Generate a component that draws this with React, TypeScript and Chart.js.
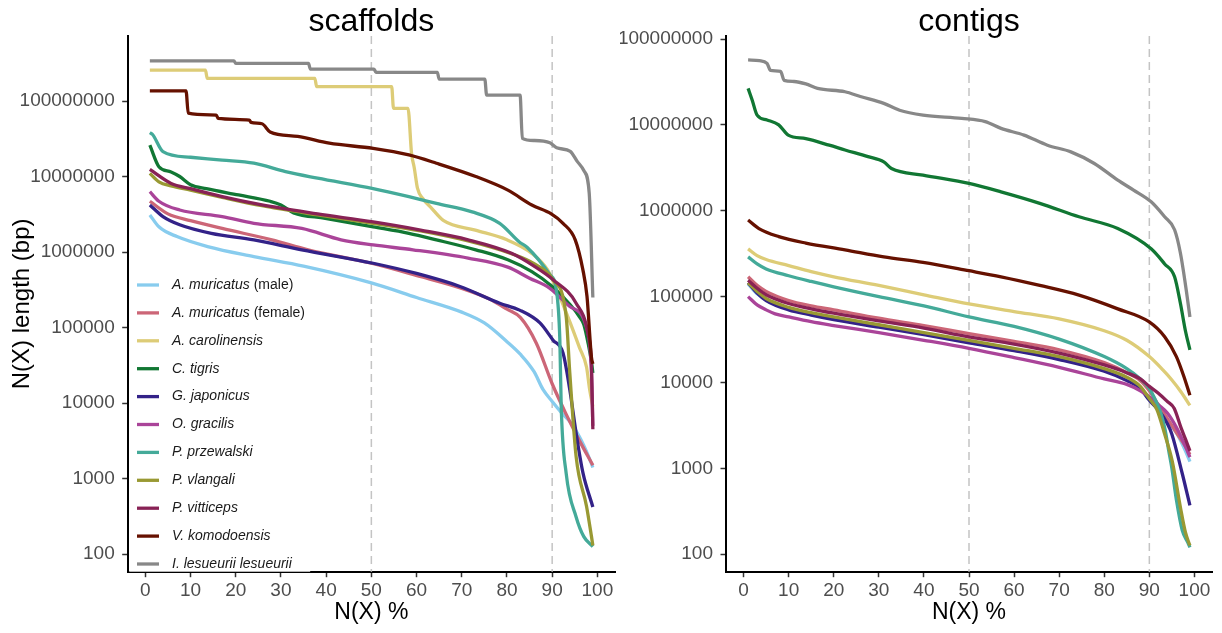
import React, { useEffect, useRef } from "react";
import { Chart, registerables } from "chart.js";

Chart.register(...registerables);

const FONT = '"Liberation Sans", Arial, Helvetica, sans-serif';

// Legend labels (italic part + plain suffix)
const SPECIES = [
  "A. muricatus (male)",
  "A. muricatus (female)",
  "A. carolinensis",
  "C. tigris",
  "G. japonicus",
  "O. gracilis",
  "P. przewalski",
  "P. vlangali",
  "P. vitticeps",
  "V. komodoensis",
  "I. lesueurii lesueurii",
];
const SPECIES_ITALIC = [
  "A. muricatus", "A. muricatus", "A. carolinensis", "C. tigris", "G. japonicus",
  "O. gracilis", "P. przewalski", "P. vlangali", "P. vitticeps", "V. komodoensis",
  "I. lesueurii lesueurii",
];
const SPECIES_PLAIN = [" (male)", " (female)", "", "", "", "", "", "", "", "", ""];
const COLORS = [
  "#88CCEE", "#CC6677", "#DDCC77", "#117733", "#332288",
  "#AA4499", "#44AA99", "#999933", "#882255", "#661100", "#888888",
];

const X_TICKS = [0, 10, 20, 30, 40, 50, 60, 70, 80, 90, 100];
const Y_TICKS = [100, 1000, 10000, 100000, 1000000, 10000000, 100000000];
const CUTOFFS = [50, 90];

// ---------------- scaffolds: N(X) % and N(X) length (bp) ----------------
const scafMaleX = [1, 3, 7, 14, 24, 35, 50, 60, 70, 75, 80, 83, 86, 88, 90, 92, 94, 96, 98, 99];
const scafMaleN = [3.1e6, 2.16e6, 1.6e6, 1.17e6, 8.7e5, 6.5e5, 3.9e5, 2.5e5, 1.6e5, 1.15e5, 6.5e4, 4.4e4, 2.6e4, 1.5e4, 1.05e4, 7.5e3, 5.6e3, 3.6e3, 2e3, 1.4e3];

const scafFemaleX = [1, 5, 10, 17, 28, 36, 50, 61, 70, 76, 80, 83, 86.5, 90, 93, 96, 99];
const scafFemaleN = [4.7e6, 3.2e6, 2.6e6, 2.05e6, 1.45e6, 1.07e6, 7.1e5, 4.7e5, 3.3e5, 2.4e5, 1.75e5, 1.35e5, 6.2e4, 1.8e4, 7.3e3, 3.2e3, 1.5e3];

const scafCaroX = [1, 13.3, 13.7, 37.5, 37.9, 54.5, 54.9, 58.1, 58.9, 59.5, 60.2, 61.5, 63, 66, 73, 80, 85.5, 89, 90.2, 92, 94, 96, 97.6, 98.3, 99];
const scafCaroN = [2.57e8, 2.57e8, 2.0e8, 2.0e8, 1.55e8, 1.55e8, 8e7, 8e7, 2e7, 1.3e7, 7e6, 5e6, 4e6, 2.6e6, 1.95e6, 1.45e6, 9.6e5, 5.8e5, 4.1e5, 2.3e5, 1.15e5, 5.5e4, 3e4, 1.5e4, 9e3];

const scafTigrisX = [1, 3, 5.7, 7.6, 10, 13.5, 20.6, 27.6, 30, 32.8, 39.8, 50.4, 58.3, 64.4, 73.1, 80.2, 85.5, 90, 94, 96, 97, 98, 98.7, 99];
const scafTigrisN = [2.6e7, 1.35e7, 1.15e7, 1e7, 7.8e6, 6.9e6, 5.7e6, 4.7e6, 4.2e6, 3.3e6, 2.8e6, 2.16e6, 1.77e6, 1.45e6, 1.07e6, 7.9e5, 5.5e5, 3.5e5, 2e5, 1.4e5, 1.1e5, 6e4, 3.5e4, 2.5e4];

const scafJaponX = [1, 3.9, 7.6, 14.6, 24, 34.6, 50.4, 60, 69.6, 78.4, 82.8, 87.3, 90.2, 92.4, 93.9, 95.3, 96.8, 99];
const scafJaponN = [4.2e6, 2.95e6, 2.3e6, 1.77e6, 1.45e6, 1.07e6, 7.1e5, 5.2e5, 3.5e5, 2.1e5, 1.7e5, 1.15e5, 6.8e4, 4.6e4, 1.5e4, 4e3, 1.2e3, 4.2e2];

const scafGracX = [1, 3, 7.6, 17, 24, 34.6, 43.3, 50.4, 59.2, 71.4, 80.2, 85, 89.5, 93.9, 97.6, 98.7, 99];
const scafGracN = [6.3e6, 4.7e6, 3.6e6, 2.95e6, 2.4e6, 2.05e6, 1.45e6, 1.24e6, 1.07e6, 8.3e5, 6.3e5, 4.5e5, 3.3e5, 1.9e5, 1e5, 2.5e4, 5e3];

const scafPrzewX = [1, 1.6, 3.9, 10, 17, 24, 31, 38.1, 50.4, 58.3, 64.4, 72.3, 78.4, 82.8, 84.5, 89.5, 90.9, 91.7, 92.0, 93.1, 95.3, 97, 99];
const scafPrzewN = [3.8e7, 3.6e7, 2.14e7, 1.8e7, 1.65e7, 1.5e7, 1.16e7, 9.5e6, 6.9e6, 5.4e6, 4.4e6, 3.4e6, 2.4e6, 1.35e6, 1.15e6, 5e5, 3.2e5, 6.8e4, 9e3, 1.17e3, 3.1e2, 1.7e2, 1.25e2];

const scafVlangX = [1, 3, 5.7, 10, 17, 25.8, 38.1, 50.4, 60.9, 71.4, 81, 86, 90.2, 93.1, 93.9, 95.3, 97.6, 98.7, 99];
const scafVlangN = [1.1e7, 8.5e6, 7.5e6, 6.6e6, 5.3e6, 4.1e6, 3.1e6, 2.4e6, 1.9e6, 1.4e6, 9.5e5, 7e5, 4.3e5, 1.4e5, 2.5e4, 1.95e3, 4.3e2, 1.7e2, 1.3e2];

const scafVittX = [1, 5.7, 10, 17, 25.8, 38.1, 50.4, 60.9, 71.4, 81, 86, 90.2, 95.3, 97.9, 98.7, 99];
const scafVittN = [1.24e7, 8.1e6, 6.9e6, 5.4e6, 4.2e6, 3.2e6, 2.5e6, 1.95e6, 1.45e6, 9.6e5, 6.5e5, 4.3e5, 2.1e5, 8.3e4, 3e4, 4.5e3];

const scafKomoX = [1, 9, 9.5, 15.7, 16.1, 23, 23.4, 25.8, 27.6, 33.7, 40.7, 50.4, 58.3, 64.4, 73.1, 80.2, 85.5, 89.8, 92.4, 95.1, 96.8, 97.7, 98.7, 99];
const scafKomoN = [1.36e8, 1.36e8, 6.9e7, 6.5e7, 5.9e7, 5.6e7, 5.2e7, 5.0e7, 3.9e7, 3.4e7, 2.76e7, 2.36e7, 1.93e7, 1.5e7, 1e7, 6.6e6, 4.2e6, 3.2e6, 2.4e6, 1.45e6, 5.8e5, 2.6e5, 4e4, 3.3e4];

const scafLesuX = [1, 19.6, 20, 36.1, 36.5, 50.6, 51, 64.6, 65, 75.1, 75.5, 82.9, 83.4, 86, 89.5, 91, 94, 95.5, 97, 98.2, 99];
const scafLesuN = [3.4e8, 3.4e8, 3.15e8, 3.15e8, 2.65e8, 2.65e8, 2.4e8, 2.4e8, 1.95e8, 1.95e8, 1.2e8, 1.2e8, 3.2e7, 3.0e7, 2.8e7, 2.4e7, 2.15e7, 1.6e7, 1.2e7, 6e6, 2.5e5];

// ---------------- contigs ----------------
const contMaleX = [1, 3, 5, 10, 15, 20, 30, 40, 50, 60, 70, 80, 85, 88, 90, 92, 94, 96, 98, 99];
const contMaleN = [1.4e5, 1.08e5, 9.2e4, 7.2e4, 6.2e4, 5.5e4, 4.5e4, 3.7e4, 3e4, 2.4e4, 1.9e4, 1.4e4, 1.1e4, 8.5e3, 6.3e3, 4.8e3, 3.6e3, 2.6e3, 1.6e3, 1.2e3];

const contFemaleX = [1, 3, 5, 10, 15, 20, 30, 40, 50, 60, 70, 80, 85, 88, 90, 92, 94, 96, 98, 99];
const contFemaleN = [1.7e5, 1.35e5, 1.15e5, 9e4, 7.8e4, 7e4, 5.6e4, 4.6e4, 3.7e4, 3e4, 2.4e4, 1.7e4, 1.3e4, 1.05e4, 8e3, 5.5e3, 3.8e3, 2.6e3, 1.8e3, 1.45e3];

const contCaroX = [1, 3, 5, 10, 15, 20, 30, 40, 50, 60, 70, 80, 85, 90, 93, 95, 97, 99];
const contCaroN = [3.6e5, 3e5, 2.7e5, 2.3e5, 1.95e5, 1.7e5, 1.35e5, 1.05e5, 8.2e4, 6.7e4, 5.5e4, 4e4, 3.1e4, 2e4, 1.4e4, 1.07e4, 7.8e3, 5.4e3];

const contTigrisX = [1, 1.9, 3, 5.2, 7.8, 9.9, 13.8, 19, 22.5, 27.6, 31.1, 32.8, 39.8, 50, 57.1, 65.7, 74.4, 83, 90.4, 93.4, 95.6, 96.9, 98, 99];
const contTigrisN = [2.66e7, 1.95e7, 1.3e7, 1.14e7, 1e7, 7.6e6, 6.9e6, 5.8e6, 5.1e6, 4.26e6, 3.7e6, 3.1e6, 2.6e6, 2.08e6, 1.66e6, 1.22e6, 8.5e5, 6.2e5, 3.6e5, 2.4e5, 1.7e5, 8.3e4, 4e4, 2.4e4];

const contJaponX = [1, 3, 5, 10, 15, 20, 30, 40, 50, 60, 70, 80, 85, 88, 90, 92, 94, 95, 97.3, 99];
const contJaponN = [1.45e5, 1.1e5, 9e4, 7e4, 6.1e4, 5.4e4, 4.4e4, 3.6e4, 2.9e4, 2.35e4, 1.85e4, 1.35e4, 1.05e4, 8.5e3, 6.2e3, 4.8e3, 3.3e3, 2.5e3, 870, 370];

const contGracX = [1, 3, 5, 7, 10, 15, 20, 30, 40, 50, 60, 70, 80, 85, 88, 90, 92, 94, 96, 98, 99];
const contGracN = [1e5, 8e4, 7e4, 6.3e4, 5.8e4, 5.1e4, 4.6e4, 3.8e4, 3.1e4, 2.5e4, 1.95e4, 1.5e4, 1.1e4, 9.5e3, 8e3, 6.8e3, 5.5e3, 4.4e3, 3e3, 1.8e3, 1.35e3];

const contPrzewX = [1, 3, 5, 10, 15, 20, 30, 40, 50, 60, 70, 80, 85, 88, 90, 91.5, 92.5, 93.5, 94.3, 95, 96, 97.3, 98.6, 99];
const contPrzewN = [2.9e5, 2.4e5, 2.1e5, 1.75e5, 1.5e5, 1.3e5, 1e5, 7.8e4, 5.8e4, 4.5e4, 3.2e4, 2e4, 1.45e4, 1.1e4, 8.5e3, 6e3, 4.5e3, 2.8e3, 1.6e3, 1e3, 4.3e2, 1.9e2, 1.35e2, 1.2e2];

const contVlangX = [1, 3, 5, 10, 15, 20, 30, 40, 50, 60, 70, 80, 85, 88, 90, 91.7, 93.4, 95.1, 96.9, 98, 99];
const contVlangN = [1.45e5, 1.15e5, 9.5e4, 7.5e4, 6.5e4, 5.8e4, 4.7e4, 3.8e4, 3.1e4, 2.5e4, 2e4, 1.45e4, 1.15e4, 9e3, 6.5e3, 4.8e3, 2.5e3, 1.2e3, 3.5e2, 1.8e2, 1.26e2];

const contVittX = [1, 3, 5, 10, 15, 20, 30, 40, 50, 60, 70, 80, 85, 88, 90, 92, 94, 95.5, 97, 98, 99];
const contVittN = [1.55e5, 1.25e5, 1.05e5, 8.3e4, 7.2e4, 6.4e4, 5.2e4, 4.3e4, 3.4e4, 2.8e4, 2.2e4, 1.6e4, 1.3e4, 1.1e4, 9e3, 7.5e3, 6e3, 5e3, 3e3, 2.2e3, 1.6e3];

const contKomoX = [1, 3.4, 7.8, 13.8, 22.5, 31.1, 39.8, 50, 57.1, 65.7, 74.4, 83, 89.9, 93.4, 96, 97.7, 99];
const contKomoN = [7.8e5, 6.2e5, 5e5, 4.2e5, 3.5e5, 2.9e5, 2.5e5, 2e5, 1.7e5, 1.35e5, 1.04e5, 7.2e4, 5.1e4, 3.4e4, 2e4, 1.16e4, 7.1e3];

const contLesuX = [1, 3.5, 5.2, 6, 8.2, 9, 11.2, 13.8, 16.4, 22.5, 25.9, 31.1, 34.6, 39.8, 48.4, 53.6, 57.1, 62.2, 67.4, 72.6, 77.8, 83, 86.5, 90.4, 93.4, 95.6, 96.9, 98.2, 99];
const contLesuN = [5.7e7, 5.6e7, 5.2e7, 4.3e7, 4.2e7, 3.3e7, 3.2e7, 3.0e7, 2.66e7, 2.43e7, 2.14e7, 1.78e7, 1.48e7, 1.3e7, 1.19e7, 1.09e7, 9.1e6, 7.6e6, 5.8e6, 4.85e6, 3.55e6, 2.27e6, 1.74e6, 1.27e6, 8.5e5, 6e5, 3.2e5, 1.18e5, 5.8e4];

const SCAF_X = [scafMaleX, scafFemaleX, scafCaroX, scafTigrisX, scafJaponX, scafGracX, scafPrzewX, scafVlangX, scafVittX, scafKomoX, scafLesuX];
const SCAF_N = [scafMaleN, scafFemaleN, scafCaroN, scafTigrisN, scafJaponN, scafGracN, scafPrzewN, scafVlangN, scafVittN, scafKomoN, scafLesuN];
const CONT_X = [contMaleX, contFemaleX, contCaroX, contTigrisX, contJaponX, contGracX, contPrzewX, contVlangX, contVittX, contKomoX, contLesuX];
const CONT_N = [contMaleN, contFemaleN, contCaroN, contTigrisN, contJaponN, contGracN, contPrzewN, contVlangN, contVittN, contKomoN, contLesuN];

function buildDatasets(xs: number[][], ns: number[][]) {
  return SPECIES.map((label, i) => ({
    label,
    data: xs[i].map((x, j) => ({ x, y: ns[i][j] })),
    borderColor: COLORS[i],
    backgroundColor: COLORS[i],
    borderWidth: 3.3,
    pointRadius: 0,
    pointHoverRadius: 0,
    fill: false,
    cubicInterpolationMode: "monotone" as const,
    borderJoinStyle: "round" as const,
    order: SPECIES.length - 1 - i,
  }));
}

const cutoffPlugin = {
  id: "cutoffs",
  beforeDatasetsDraw(chart: any) {
    const { ctx, chartArea, scales } = chart;
    ctx.save();
    ctx.strokeStyle = "#c4c4c4";
    ctx.lineWidth = 1.5;
    ctx.setLineDash([8, 5]);
    CUTOFFS.forEach((v) => {
      const px = scales.x.getPixelForValue(v);
      ctx.beginPath();
      ctx.moveTo(px, chartArea.top);
      ctx.lineTo(px, chartArea.bottom);
      ctx.stroke();
    });
    ctx.restore();
  },
};

const legendPlugin = {
  id: "speciesLegend",
  afterDraw(chart: any) {
    const { ctx, chartArea } = chart;
    const left = chartArea.left + 1.5;
    const top = 272;
    ctx.save();
    ctx.fillStyle = "#ffffff";
    ctx.fillRect(left, top, 181, chartArea.bottom - top);
    SPECIES.forEach((_, i) => {
      const y = 285 + i * 27.9;
      ctx.strokeStyle = COLORS[i];
      ctx.lineWidth = 3.3;
      ctx.beginPath();
      ctx.moveTo(137, y);
      ctx.lineTo(159, y);
      ctx.stroke();
      ctx.fillStyle = "#1a1a1a";
      ctx.textBaseline = "middle";
      ctx.textAlign = "left";
      ctx.font = `italic 14px ${FONT}`;
      ctx.fillText(SPECIES_ITALIC[i], 172, y);
      const w = ctx.measureText(SPECIES_ITALIC[i]).width;
      if (SPECIES_PLAIN[i]) {
        ctx.font = `14px ${FONT}`;
        ctx.fillText(SPECIES_PLAIN[i], 172 + w, y);
      }
    });
    ctx.restore();
  },
};

function makeOptions(panel: "left" | "right"): any {
  const isLeft = panel === "left";
  const logMin = isLeft ? 1.766 : 1.796;
  const logMax = isLeft ? 8.861 : 8.035;
  return {
    responsive: false,
    animation: false,
    devicePixelRatio: 1,
    events: [],
    layout: { padding: { top: 0, right: isLeft ? 5 : 10, bottom: 0, left: 0 } },
    plugins: {
      legend: { display: false },
      tooltip: { enabled: false },
      title: {
        display: true,
        text: isLeft ? "scaffolds" : "contigs",
        fullSize: false,
        color: "#000",
        font: { family: FONT, size: 32, weight: "normal", lineHeight: 1 },
        padding: { top: 6, bottom: -2 },
      },
    },
    scales: {
      x: {
        type: "linear",
        bounds: "data",
        min: -3.9,
        max: 103.9,
        afterBuildTicks: (axis: any) => {
          axis.ticks = X_TICKS.map((v) => ({ value: v }));
        },
        afterFit: (axis: any) => {
          axis.height = 61.3;
        },
        ticks: {
          autoSkip: false,
          maxRotation: 0,
          padding: 2.5,
          color: "#4d4d4d",
          font: { family: FONT, size: 19 },
          callback: (v: any) => String(v),
        },
        grid: { drawOnChartArea: false, drawTicks: true, tickLength: 5.5, tickColor: "#333", tickWidth: 1.5 },
        border: { display: true, color: "#000", width: 2 },
        title: {
          display: true,
          text: "N(X) %",
          color: "#000",
          font: { family: FONT, size: 23, lineHeight: 1.2 },
          padding: { top: 0, bottom: 6.2 },
        },
      },
      y: {
        type: "logarithmic",
        bounds: "data",
        min: Math.pow(10, logMin),
        max: Math.pow(10, logMax),
        afterBuildTicks: (axis: any) => {
          axis.ticks = Y_TICKS.map((v) => ({ value: v, major: true }));
        },
        afterFit: (axis: any) => {
          axis.width = isLeft ? 127.7 : 106;
        },
        ticks: {
          autoSkip: false,
          padding: 7.5,
          color: "#4d4d4d",
          font: { family: FONT, size: 19 },
          callback: (v: any) => String(v),
        },
        grid: { drawOnChartArea: false, drawTicks: true, tickLength: 5.5, tickColor: "#333", tickWidth: 1.5 },
        border: { display: true, color: "#000", width: 2 },
        title: {
          display: isLeft,
          text: "N(X) length (bp)",
          color: "#000",
          font: { family: FONT, size: 24, lineHeight: 1.2 },
          padding: { top: 7.6, bottom: 0 },
        },
      },
    },
  };
}

export default function App() {
  const leftRef = useRef<HTMLCanvasElement | null>(null);
  const rightRef = useRef<HTMLCanvasElement | null>(null);

  useEffect(() => {
    const charts: Chart[] = [];
    if (leftRef.current) {
      charts.push(
        new Chart(leftRef.current, {
          type: "line",
          data: { datasets: buildDatasets(SCAF_X, SCAF_N) as any },
          options: makeOptions("left"),
          plugins: [cutoffPlugin, legendPlugin],
        })
      );
    }
    if (rightRef.current) {
      charts.push(
        new Chart(rightRef.current, {
          type: "line",
          data: { datasets: buildDatasets(CONT_X, CONT_N) as any },
          options: makeOptions("right"),
          plugins: [cutoffPlugin],
        })
      );
    }
    return () => charts.forEach((c) => c.destroy());
  }, []);

  return (
    <div style={{ position: "fixed", left: 0, top: 0, width: 1222, height: 633, background: "#fff" }}>
      <canvas ref={leftRef} width={620} height={633} style={{ position: "absolute", left: 0, top: 0, width: 620, height: 633 }} />
      <canvas ref={rightRef} width={602} height={633} style={{ position: "absolute", left: 620, top: 0, width: 602, height: 633 }} />
    </div>
  );
}
